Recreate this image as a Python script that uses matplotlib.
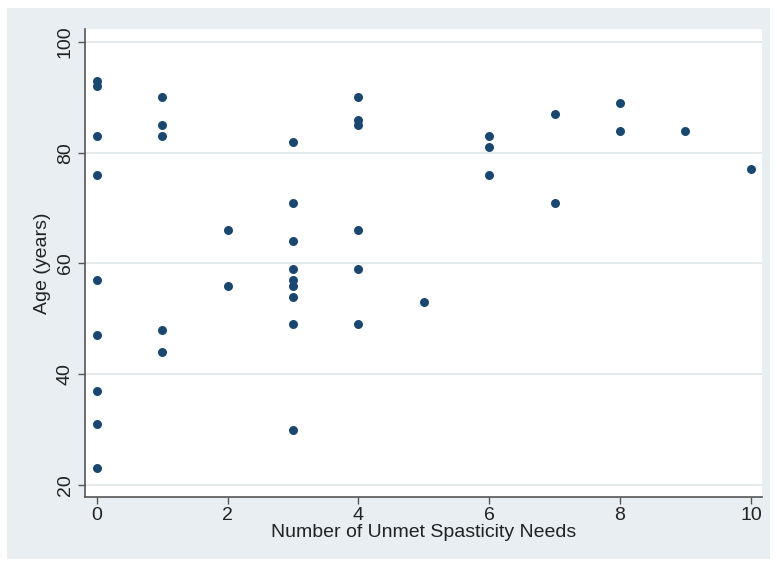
import matplotlib
matplotlib.use("Agg")
import matplotlib.pyplot as plt
from matplotlib.patches import Rectangle

plt.rcParams['font.family'] = ['Liberation Sans', 'DejaVu Sans']

unmet_needs = [0, 0, 0, 0, 0, 0, 0, 0, 0,
               1, 1, 1, 1, 1,
               2, 2,
               3, 3, 3, 3, 3, 3, 3, 3, 3,
               4, 4, 4, 4, 4, 4,
               5,
               6, 6, 6,
               7, 7,
               8, 8,
               9,
               10]
age_years = [93, 92, 83, 76, 57, 47, 37, 31, 23,
             90, 85, 83, 48, 44,
             66, 56,
             82, 71, 64, 59, 57, 56, 54, 49, 30,
             90, 86, 85, 66, 59, 49,
             53,
             83, 81, 76,
             87, 71,
             89, 84,
             84,
             77]
x_ticks = [0, 2, 4, 6, 8, 10]
y_ticks = [20, 40, 60, 80, 100]

fig = plt.figure(figsize=(7.77, 5.67), dpi=100, facecolor='white')
fig.patches.append(Rectangle((7/777, 1 - 559/567), (770 - 7)/777, (559 - 8)/567,
                             transform=fig.transFigure, facecolor='#e8eef2',
                             edgecolor='none', zorder=-10))
ax = fig.add_axes([85/777, 1 - 497/567, (762 - 85)/777, (497 - 29)/567])
ax.set_zorder(5)
ax.set_facecolor('white')
ax.scatter(unmet_needs, age_years, s=42, color='#1a476f', zorder=3, linewidths=0)

ax.set_xlim(-0.18, 10.17)
ax.set_ylim(17.83, 102.35)
ax.set_xticks(x_ticks)
ax.set_yticks(y_ticks)
ax.yaxis.grid(True, color='#e2e8eb', linewidth=1.3)
ax.set_axisbelow(True)
for s in ['top', 'right']:
    ax.spines[s].set_visible(False)
for s in ['left', 'bottom']:
    ax.spines[s].set_color('#555555')
    ax.spines[s].set_linewidth(1.2)
ax.tick_params(axis='both', direction='out', length=5, width=1, color='#555555',
               labelsize=14, labelcolor='#222222')
ax.tick_params(axis='x', pad=2)
ax.tick_params(axis='y', pad=3)
plt.setp(ax.get_yticklabels(), rotation=90, va='center')
ax.set_xlabel('Number of Unmet Spasticity Needs', fontsize=14, color='#222222', labelpad=0)
ax.set_ylabel('Age (years)', fontsize=14, color='#222222', labelpad=4)

fig.savefig('out.png', dpi=100, facecolor='white')
